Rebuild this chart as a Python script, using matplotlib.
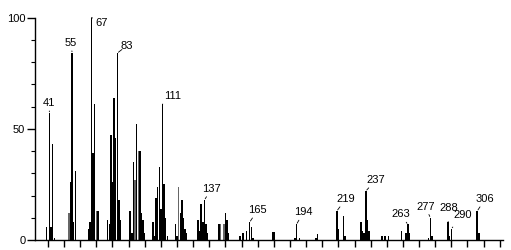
import matplotlib
matplotlib.use("Agg")
import matplotlib.pyplot as plt
from matplotlib.ticker import MultipleLocator

mz = [39, 41, 42, 43, 44,
      53, 54, 55, 56, 57,
      65, 66, 67, 68, 69, 70, 71,
      77, 78, 79, 80, 81, 82, 83, 84, 85,
      91, 92, 93, 94, 95, 96, 97, 98, 99, 100,
      105, 106, 107, 108, 109, 110, 111, 112, 113, 114,
      119, 120, 121, 122, 123, 124, 125, 126,
      133, 134, 135, 136, 137, 138, 139,
      146, 147, 149, 150, 151, 152,
      159, 161, 163, 165, 166, 167,
      179, 180,
      193, 194, 196,
      206, 207,
      219, 220, 223, 224,
      234, 235, 236, 237, 238, 239,
      247, 249, 251,
      259, 262, 263, 264,
      276, 277, 278,
      288, 289, 290,
      306, 307]
intensity = [6, 57, 6, 43, 1,
             12, 26, 84, 8, 31,
             5, 8, 100, 39, 61, 13, 13,
             9, 7, 47, 26, 64, 46, 84, 18, 9,
             13, 3, 35, 27, 52, 40, 40, 12, 9, 3,
             8, 2, 19, 24, 33, 14, 61, 25, 10, 2,
             7, 2, 24, 12, 18, 10, 5, 3,
             9, 4, 16, 8, 18, 7, 3,
             7, 7, 7, 12, 9, 3,
             2, 3, 4, 8, 6, 1,
             3.5, 3.5,
             1, 7, 1,
             1, 2.5,
             13, 5, 11, 2,
             8, 4, 3, 22, 9, 4,
             2, 2, 2,
             4, 3, 7, 3,
             1, 10, 2,
             8, 2, 5,
             13, 3]

# pics annotés
label_mz = [41, 55, 67, 83, 111, 137, 165, 194, 219, 237, 263, 277, 288, 290, 306]
# décalage du texte en pixels (dx, dy)
label_off = [(-1, 10), (-1, 10), (10, -5), (9, 7), (10, 8), (7, 11), (8, 12), (7, 12),
             (9, 12), (10, 11), (-7, 10), (-5, 11), (1, 14), (11, 14), (8, 12)]

grey_peaks = [94, 96, 121, 147, 149, 53, 70]

fig = plt.figure(figsize=(5.11, 2.5), dpi=100)
ax = fig.add_axes([35/511, 10/250, 468/511, 222.5/250])

colors = ["#666666" if m in grey_peaks else "black" for m in mz]
ax.bar(mz, intensity, width=0.9, color=colors, linewidth=0)

ax.set_xlim(32, 322)
ax.set_ylim(0, 100)
for s in ["top", "right"]:
    ax.spines[s].set_visible(False)
ax.spines["left"].set_linewidth(1.0)
ax.spines["bottom"].set_linewidth(1.0)

ax.set_yticks([0, 50, 100])
ax.set_yticklabels(["0", "50", "100"], fontsize=8, family="Liberation Sans")
ax.yaxis.set_minor_locator(MultipleLocator(10))
ax.tick_params(axis="y", which="major", length=6, width=1, pad=1)
ax.tick_params(axis="y", which="minor", length=3, width=0.8)

ax.set_xticks(range(40, 321, 10))
ax.tick_params(axis="x", which="major", length=5, width=1, labelbottom=False)

inten = dict(zip(mz, intensity))
for m, (dx, dy) in zip(label_mz, label_off):
    ax.annotate(str(m), xy=(m, inten[m]), xytext=(dx, dy), textcoords="offset pixels",
                ha="center", va="center", fontsize=8, family="Liberation Sans",
                arrowprops=dict(arrowstyle="-", lw=0.6, color="black", shrinkA=4, shrinkB=1),
                annotation_clip=False)

fig.savefig("out.png", dpi=100)
